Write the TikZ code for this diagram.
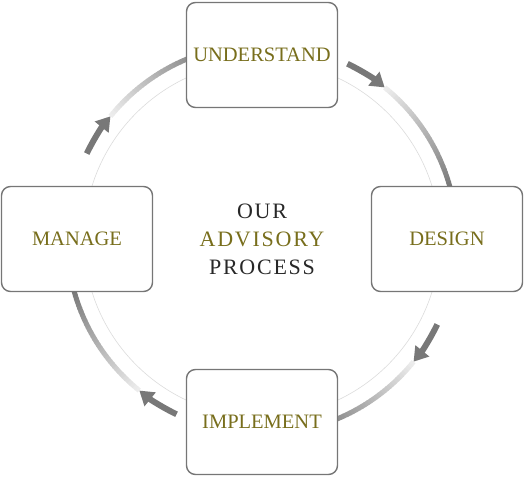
\documentclass[tikz,border=0pt]{standalone}
\usepackage{fontspec}
\setmainfont{Liberation Serif}
\usetikzlibrary{arrows.meta, positioning}

\definecolor{olivetext}{RGB}{120,110,28}
\definecolor{boxgray}{RGB}{118,118,118}
\definecolor{ringdark}{RGB}{120,120,120}
\definecolor{ringlight}{RGB}{236,236,236}
\definecolor{titlegray}{RGB}{40,40,40}

\begin{document}
\begin{tikzpicture}[x=1pt, y=1pt, node distance=184pt,
    stage/.style={draw=boxgray, line width=1.4pt, fill=white, rounded corners=9pt,
      minimum width=151pt, minimum height=105pt, text=olivetext,
      font=\fontsize{20.5}{24}\selectfont},
    title/.style={inner sep=0pt, font=\fontsize{22}{26}\selectfont\addfontfeature{LetterSpace=8}}]

        \useasboundingbox (-262,-238) rectangle (263,239);

        % Thin guide circle
        \draw[black!14, line width=0.6pt] (0,0) circle[radius=178];

        % Ring: arrow leaving each box, then an arc fading into the next box
        \foreach \k in {0,1,2,3} {
          \begin{scope}[rotate=-90*\k]
            \coordinate (leave) at (64:195);
            \draw[ringdark, line width=6pt, -{Triangle[width=17pt,length=14pt]}]
              (leave) arc[start angle=64, end angle=51, radius=195];
            \foreach \a in {0,...,35} {
              \pgfmathtruncatemacro{\shade}{100*\a/35}
              \pgfmathsetmacro{\st}{51-\a}
              \draw[ringdark!\shade!ringlight, line width=5pt]
                (\st:195) arc[start angle=\st, delta angle=-1.2, radius=195];
            }
          \end{scope}
        }

        % Title in the middle
        \node[title, text=olivetext] (advisory) at (0,0) {ADVISORY};
        \node[title, text=titlegray, above of=advisory, node distance=28pt] (our) {OUR};
        \node[title, text=titlegray, below of=advisory, node distance=28pt] (process) {PROCESS};

        % The four stages
        \node[stage, above of=advisory] (understand) {UNDERSTAND};
        \node[stage, right of=advisory, node distance=185pt] (design) {DESIGN};
        \node[stage, below of=advisory, node distance=183pt] (implement) {IMPLEMENT};
        \node[stage, left of=advisory, node distance=185pt] (manage) {MANAGE};

\end{tikzpicture}
\end{document}
